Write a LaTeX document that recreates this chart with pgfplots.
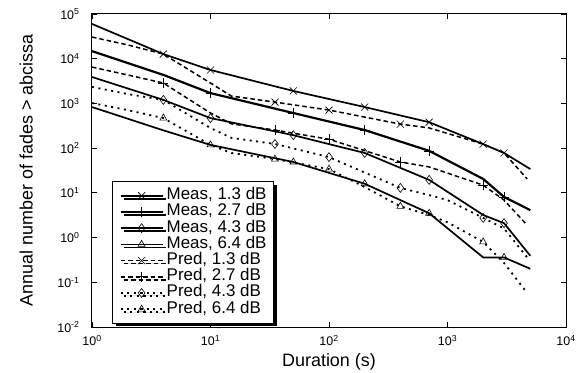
\documentclass[border=0pt]{standalone}
\usepackage{fontspec}
\setmainfont{Liberation Sans}
\usepackage{pgfplots}
\pgfplotsset{compat=1.18}
\usetikzlibrary{shadows}

\begin{document}
\begin{tikzpicture}
\begin{axis}[
  scale only axis, width=474bp, height=313bp,
  at={(0,0)}, anchor=south west,
  xmode=log, ymode=log,
  xmin=1, xmax=1e4, ymin=1e-2, ymax=1e5,
  xtick={1,10,100,1000,10000},
  xticklabels={10\textsuperscript{0},10\textsuperscript{1},10\textsuperscript{2},10\textsuperscript{3},10\textsuperscript{4}},
  ytick={1e-2,1e-1,1,10,100,1000,10000,100000},
  yticklabels={10\textsuperscript{-2},10\textsuperscript{-1},10\textsuperscript{0},10\textsuperscript{1},10\textsuperscript{2},10\textsuperscript{3},10\textsuperscript{4},10\textsuperscript{5}},
  xminorticks=false, yminorticks=false,
  tick align=inside, tick pos=both, major tick length=5bp,
  axis line style={line width=1bp},
  every tick/.style={black, line width=0.8bp},
  tick label style={font=\fontsize{12.5}{12.5}\selectfont},
  xticklabel style={yshift=-5bp},
  yticklabel style={xshift=-9bp},
  xlabel={Duration (s)},
  ylabel={Annual number of fades > abcissa},
  label style={font=\fontsize{18}{18}\selectfont},
  xlabel style={at={(axis description cs:0.5,-0.083)}, anchor=north, inner sep=0pt},
  ylabel style={at={(axis description cs:-0.139,0.5)}, anchor=center, inner sep=0pt},
  legend cell align=left,
  legend style={at={(0.042,0.010)}, anchor=south west, draw=black, line width=1.2bp, fill=white,
    drop shadow={shadow xshift=3bp, shadow yshift=-3bp, fill=black, opacity=1},
    font=\fontsize{17}{17}\selectfont, inner xsep=7bp, inner ysep=6bp, row sep=0pt, column sep=3bp,
    nodes={inner sep=0pt, text height=12bp, text depth=4.2bp}},
  legend image code/.code={\draw[#1, mark indices={2}] plot coordinates {(0bp,0bp) (21bp,0bp) (42bp,0bp)};},
  meas/.style={black, solid, line width=1.7bp, mark options={solid, line width=0.6bp}, mark indices={3,4,5,6,8}},
  preda/.style={black, line width=1.5bp, dash pattern=on 4.5bp off 3bp, mark options={solid, line width=0.6bp}},
  predb/.style={black, line width=1.8bp, dash pattern=on 2bp off 4.5bp, mark options={solid, line width=0.6bp}},
]
% Measured
\addplot[meas, mark=x, mark size=5bp] coordinates {
 (1,60000) (4,12700) (10,5600) (50,1900) (200,830) (700,380) (2000,123) (3000,78) (5000,34)};
\addlegendentry{Meas, 1.3 dB}
\addplot[meas, line width=2.2bp, mark=+, mark size=5bp] coordinates {
 (1,14800) (4,4350) (10,1700) (50,610) (200,254) (700,87) (2000,20.5) (3000,8.1) (5000,4.1)};
\addlegendentry{Meas, 2.7 dB}
\addplot[meas, mark=diamond, mark size=4.5bp] coordinates {
 (1,3900) (4,1200) (10,470) (50,195) (200,78) (700,19.5) (2000,3.2) (3000,2.1) (5000,0.39)};
\addlegendentry{Meas, 4.3 dB}
\addplot[meas, mark=triangle, mark size=4bp] coordinates {
 (1,830) (4,250) (10,118) (50,49) (200,16) (700,3.5) (2000,0.36) (3000,0.36) (5000,0.2)};
\addlegendentry{Meas, 6.4 dB}
% Predicted
\addplot[preda, mark=x, mark size=5bp, mark indices={3,6,7,8,10}] coordinates {
 (1,30500) (2,20400) (4,12700) (10,2860) (15,1460) (35,1070) (100,710) (400,345) (700,283) (2000,123) (3000,78) (4700,20.5)};
\addlegendentry{Pred, 1.3 dB}
\addplot[preda, mark=+, mark size=5bp, mark indices={3,6,7,8,10}] coordinates {
 (1,6500) (2,4330) (4,2860) (10,610) (15,350) (35,254) (100,158) (400,49) (700,38) (2000,14.9) (3000,6.9) (4700,1.9)};
\addlegendentry{Pred, 2.7 dB}
\addplot[predb, mark=diamond, mark size=4.5bp, mark indices={3,6,7,8,11}] coordinates {
 (1,2340) (2,1620) (4,1200) (10,282) (15,170) (35,124) (100,63) (400,12.9) (700,8.9) (1000,6.9) (2000,2.75) (3000,1.6) (4700,0.36)};
\addlegendentry{Pred, 4.3 dB}
\addplot[predb, mark=triangle, mark size=4bp, mark indices={3,6,7,9,12}] coordinates {
 (1,1020) (2,710) (4,470) (10,118) (15,78) (35,57) (100,34) (200,13.5) (400,5.0) (700,3.2) (1000,2.2) (2000,0.8) (3000,0.27) (4700,0.058)};
\addlegendentry{Pred, 6.4 dB}
\end{axis}
\pgfresetboundingbox
\useasboundingbox (-92bp,-46bp) rectangle (492bp,327bp);
\end{tikzpicture}
\end{document}
